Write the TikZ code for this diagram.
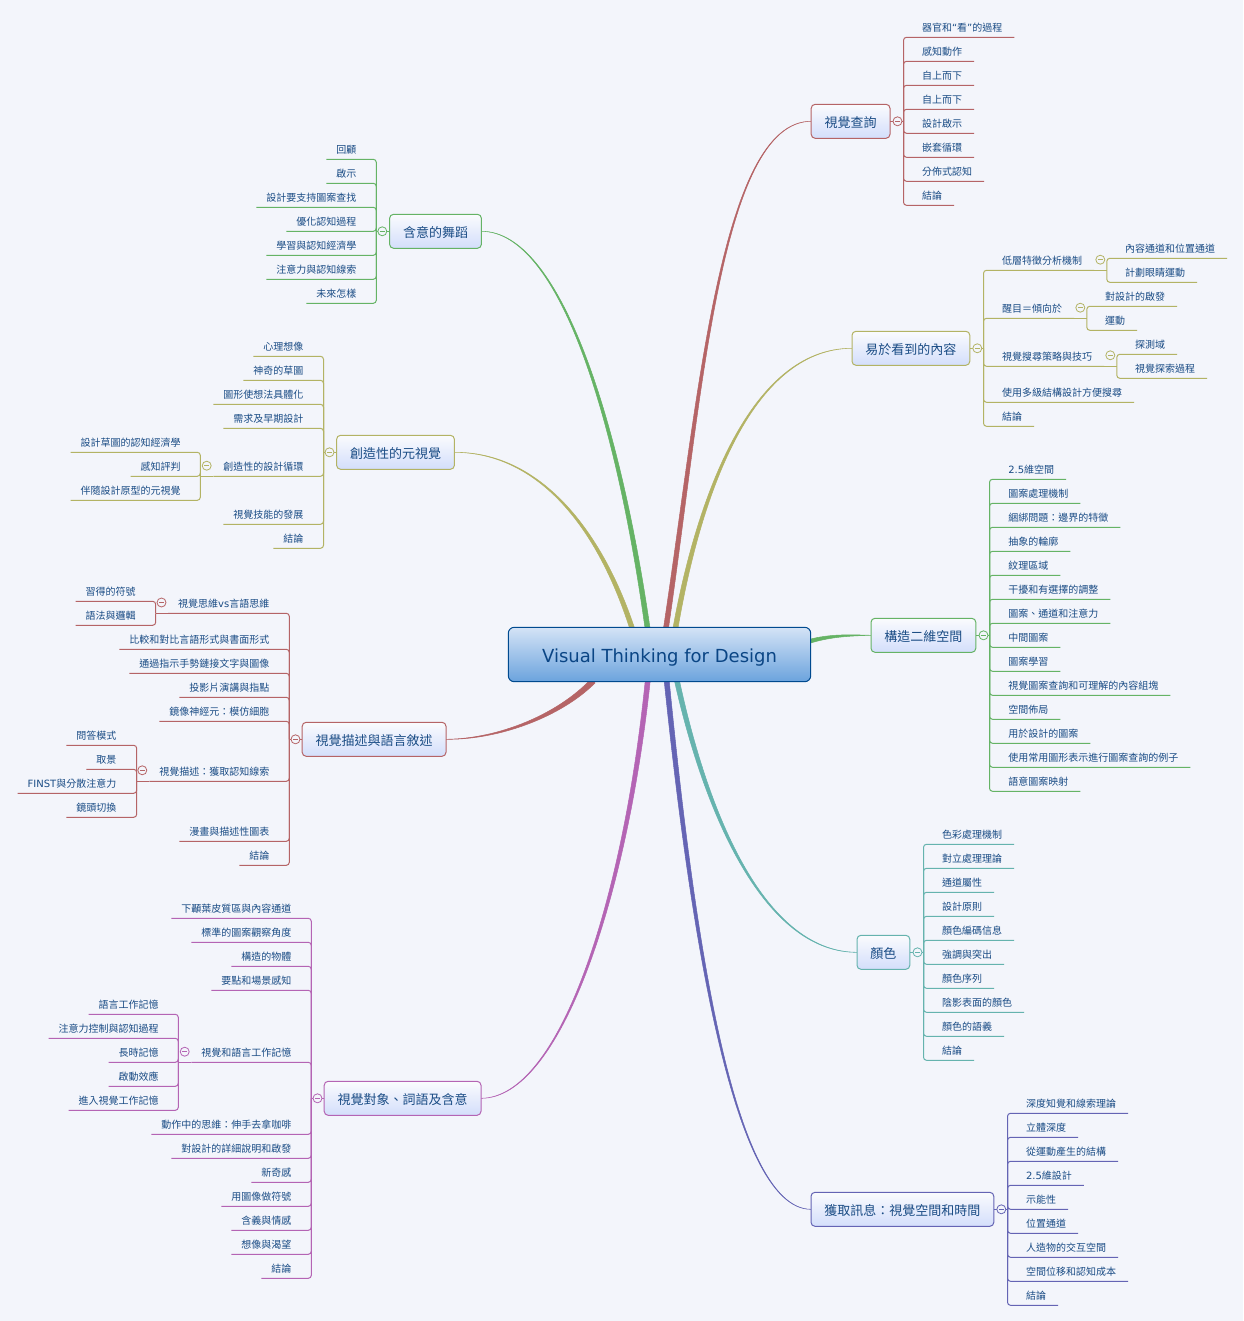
\documentclass[tikz,border=0pt]{standalone}
\usepackage{fontspec}
\setmainfont{Noto Sans CJK TC}
\newfontfamily\latf{DejaVu Sans}
\newcommand\lat[1]{{\latf #1}}
\usetikzlibrary{calc,backgrounds}
\definecolor{bgc}{HTML}{F3F5FB}
\definecolor{cRed}{HTML}{B56466}
\definecolor{cOli}{HTML}{B3B364}
\definecolor{cGrn}{HTML}{65B365}
\definecolor{cTea}{HTML}{65B3AE}
\definecolor{cBlu}{HTML}{6464B4}
\definecolor{cMag}{HTML}{B464B4}
\definecolor{txtc}{HTML}{1A4C85}
\definecolor{topb}{HTML}{D3DEFB}
\definecolor{rootb}{HTML}{004A8F}
\definecolor{roott}{HTML}{D4E3F6}
\definecolor{rootd}{HTML}{6BA3DD}
\definecolor{rootx}{HTML}{0A4585}
\tikzset{
  leafbase/.style={font=\fontsize{10}{12}\selectfont,text=txtc,text height=8.8pt,text depth=1.2pt,inner ysep=5pt,outer sep=0pt},
  leafR/.style={leafbase,inner xsep=12pt,anchor=south west},
  leafL/.style={leafbase,inner xsep=10pt,anchor=south east},
  wire/.style={draw=#1,line width=1pt,rounded corners=3pt},
  topicnode/.style={draw=#1,line width=1pt,rounded corners=4pt,top color=white!60!bgc,bottom color=topb,
    font=\fontsize{13}{16}\selectfont,text=txtc,inner xsep=13.4pt,inner ysep=0pt,text height=13pt,text depth=1.12pt,minimum height=34pt,anchor=west,outer sep=0pt},
  rootnode/.style={draw=rootb,line width=1pt,rounded corners=6pt,top color=roott,bottom color=rootd,
    text=rootx,font=\latf\fontsize{18}{21}\selectfont,text height=16pt,text depth=.4pt,minimum width=302.4pt,minimum height=54.4pt,inner sep=0pt,outer sep=0pt},
  foldnode/.style={circle,draw=#1,line width=.8pt,fill=bgc,minimum size=9pt,inner sep=0pt},
}
% name, colour, text start x, list of y/text
\newcommand\leavesR[4]{\foreach \yy/\txt [count=\i] in {#4}{%
  \node[leafR] (#1-\i) at (#3-12,\yy) {\txt};
  \draw[wire=#2] (#1hub) |- (#1-\i.south east);}}
\newcommand\leavesL[4]{\foreach \yy/\txt [count=\i] in {#4}{%
  \node[leafL] (#1-\i) at (#3+10.6,\yy) {\txt};
  \draw[wire=#2] (#1hub) |- (#1-\i.south west);}}
% name, colour, x, y
\newcommand\fold[4]{\node[foldnode=#2] (#1) at (#3,#4) {};
  \draw[#2,line width=.7pt] ($(#1.center)+(-2.4,0)$) -- ($(#1.center)+(2.4,0)$);}
% colour, start, dx, dy, c1x, c1y, c2x, c2y
\newcommand\taper[8]{\path[draw=#1,fill=#1,line width=.5pt]
  ($(#2)+(-#3,-#4)$) .. controls ({#5-.75*#3},{#6-.75*#4}) and (#7,{#8+.6*\tsign}) .. (\tend)
  .. controls (#7,{#8-.6*\tsign}) and ({#5+.75*#3},{#6+.75*#4}) .. ($(#2)+(#3,#4)$) -- cycle;}
\begin{document}
\begin{tikzpicture}[x=1pt,y=-1pt]
\useasboundingbox (0,0) rectangle (1243,1321);
\begin{scope}[on background layer]
\fill[bgc] (0,0) rectangle (1243,1321);
\end{scope}

\node[rootnode] (root) at (659.5,654.5) {Visual Thinking for Design};

\node[topicnode=cRed] (A) at (811.2,121.3) {視覺查詢};
\node[topicnode=cOli] (B) at (852.0,348.3) {易於看到的內容};
\node[topicnode=cGrn] (C) at (871.0,635.3) {構造二維空間};
\node[topicnode=cTea] (D) at (857.0,952.3) {顏色};
\node[topicnode=cBlu] (E) at (811.0,1209.3) {獲取訊息：視覺空間和時間};
\node[topicnode=cGrn,anchor=east] (F) at (481.4,231.3) {含意的舞蹈};
\node[topicnode=cOli,anchor=east] (G) at (454.4,452.3) {創造性的元視覺};
\node[topicnode=cRed,anchor=east] (H) at (446.0,739.3) {視覺描述與語言敘述};
\node[topicnode=cMag,anchor=east] (I) at (481.0,1098.3) {視覺對象、詞語及含意};

% main tapered links
\coordinate (sA) at (666,628);
\coordinate (sB) at (675.5,628);
\coordinate (sC) at (809,641.5);
\coordinate (sD) at (677,681);
\coordinate (sE) at (666.7,681);
\coordinate (sF) at (647.5,628);
\coordinate (sG) at (632,628);
\coordinate (sH) at (593,681);
\coordinate (sI) at (647.7,681);
\begin{scope}[on background layer]
\def\tsign{-1}\def\tend{A.west}\taper{cRed}{sA}{2.5}{0}{700}{400}{720}{121.3}
\def\tsign{-1}\def\tend{B.west}\taper{cOli}{sB}{2.5}{0}{698}{500}{750}{348.3}
\def\tsign{-1}\def\tend{C.west}\taper{cGrn}{sC}{0}{2}{830}{635.3}{850}{635.3}
\def\tsign{1}\def\tend{D.west}\taper{cTea}{sD}{2.5}{0}{710}{830}{770}{952.3}
\def\tsign{1}\def\tend{E.west}\taper{cBlu}{sE}{2.5}{0}{690}{910}{730}{1209.3}
\def\tsign{1}\def\tend{F.east}\taper{cGrn}{sF}{2.5}{0}{618}{420}{560}{231.3}
\def\tsign{1}\def\tend{G.east}\taper{cOli}{sG}{2.5}{0}{600}{530}{540}{452.3}
\def\tsign{-1}\def\tend{H.east}\taper{cRed}{sH}{2}{2}{560}{715}{500}{739.3}
\def\tsign{-1}\def\tend{I.east}\taper{cMag}{sI}{2.5}{0}{625}{900}{560}{1098.3}
\end{scope}

% hubs
\coordinate (Ahub) at (903.5,121.3);
\coordinate (Bhub) at (983.5,348.3);
\coordinate (Chub) at (989.5,635.3);
\coordinate (Dhub) at (923.5,952.3);
\coordinate (Ehub) at (1007.5,1209.3);
\coordinate (Fhub) at (376.3,231.3);
\coordinate (Ghub) at (323.5,452.3);
\coordinate (Hhub) at (289.3,739.3);
\coordinate (Ihub) at (311.3,1098.3);

\leavesR{A}{cRed}{922}{37.3/器官和\lat{“}看\lat{”}的過程,61.3/感知動作,85.3/自上而下,109.3/自上而下,133.3/設計啟示,157.3/嵌套循環,181.3/分佈式認知,205.3/結論}
\leavesR{B}{cOli}{1002}{270.3/低層特徵分析機制,318.3/醒目＝傾向於,366.3/視覺搜尋策略與技巧,402.3/使用多級結構設計方便搜尋,426.3/結論}
\leavesR{C}{cGrn}{1008.3}{479.3/\lat{2.5}維空間,503.3/圖案處理機制,527.3/綑綁問題：邊界的特徵,551.3/抽象的輪廓,575.3/紋理區域,599.3/干擾和有選擇的調整,623.3/圖案、通道和注意力,647.3/中間圖案,671.3/圖案學習,695.3/視覺圖案查詢和可理解的內容組塊,719.3/空間佈局,743.3/用於設計的圖案,767.3/使用常用圖形表示進行圖案查詢的例子,791.3/語意圖案映射}
\leavesR{D}{cTea}{942}{844.3/色彩處理機制,868.3/對立處理理論,892.3/通道屬性,916.3/設計原則,940.3/顏色編碼信息,964.3/強調與突出,988.3/顏色序列,1012.3/陰影表面的顏色,1036.3/顏色的語義,1060.3/結論}
\leavesR{E}{cBlu}{1026}{1113.3/深度知覺和線索理論,1137.3/立體深度,1161.3/從運動產生的結構,1185.3/\lat{2.5}維設計,1209.3/示能性,1233.3/位置通道,1257.3/人造物的交互空間,1281.3/空間位移和認知成本,1305.3/結論}
\leavesL{F}{cGrn}{355.7}{159.3/回顧,183.3/啟示,207.3/設計要支持圖案查找,231.3/優化認知過程,255.3/學習與認知經濟學,279.3/注意力與認知線索,303.3/未來怎樣}
\leavesL{G}{cOli}{302.7}{356.3/心理想像,380.3/神奇的草圖,404.3/圖形使想法具體化,428.3/需求及早期設計,476.3/創造性的設計循環,524.3/視覺技能的發展,548.3/結論}
\leavesL{H}{cRed}{268.7}{613.3/視覺思維\lat{vs}言語思維,649.3/比較和對比言語形式與書面形式,673.3/通過指示手勢鏈接文字與圖像,697.3/投影片演講與指點,721.3/鏡像神經元：模仿細胞,781.3/視覺描述：獲取認知線索,841.3/漫畫與描述性圖表,865.3/結論}
\leavesL{I}{cMag}{290.7}{918.3/下顳葉皮質區與內容通道,942.3/標準的圖案觀察角度,966.3/構造的物體,990.3/要點和場景感知,1062.3/視覺和語言工作記憶,1134.3/動作中的思維：伸手去拿咖啡,1158.3/對設計的詳細說明和啟發,1182.3/新奇感,1206.3/用圖像做符號,1230.3/含義與情感,1254.3/想像與渴望,1278.3/結論}

% second-level groups
\coordinate (B1hub) at (1106.8,270.3);
\coordinate (B2hub) at (1086.8,318.3);
\coordinate (B3hub) at (1116.8,366.3);
\draw[wire=cOli] (B-1.south east) -- (B1hub);
\draw[wire=cOli] (B-2.south east) -- (B2hub);
\draw[wire=cOli] (B-3.south east) -- (B3hub);
\leavesR{B1}{cOli}{1125}{258.3/內容通道和位置通道,282.3/計劃眼睛運動}
\leavesR{B2}{cOli}{1105}{306.3/對設計的啟發,330.3/運動}
\leavesR{B3}{cOli}{1135}{354.3/探測域,378.3/視覺探索過程}

\coordinate (G1hub) at (200.3,476.3);
\draw[wire=cOli] (G-5.south west) -- (G1hub);
\leavesL{G1}{cOli}{180}{452.3/設計草圖的認知經濟學,476.3/感知評判,500.3/伴隨設計原型的元視覺}

\coordinate (H1hub) at (155.7,613.3);
\coordinate (H2hub) at (136.7,781.3);
\draw[wire=cRed] (H-1.south west) -- (H1hub);
\draw[wire=cRed] (H-6.south west) -- (H2hub);
\leavesL{H1}{cRed}{135}{601.3/習得的符號,625.3/語法與邏輯}
\leavesL{H2}{cRed}{115.7}{745.3/問答模式,769.3/取景,793.3/\lat{FINST}與分散注意力,817.3/鏡頭切換}

\coordinate (I1hub) at (178.3,1062.3);
\draw[wire=cMag] (I-5.south west) -- (I1hub);
\leavesL{I1}{cMag}{158}{1014.3/語言工作記憶,1038.3/注意力控制與認知過程,1062.3/長時記憶,1086.3/啟動效應,1110.3/進入視覺工作記憶}

% topic to hub links and fold marks
\draw[wire=cRed] (A.east) -- (Ahub);
\draw[wire=cOli] (B.east) -- (Bhub);
\draw[wire=cGrn] (C.east) -- (Chub);
\draw[wire=cTea] (D.east) -- (Dhub);
\draw[wire=cBlu] (E.east) -- (Ehub);
\draw[wire=cGrn] (F.west) -- (Fhub);
\draw[wire=cOli] (G.west) -- (Ghub);
\draw[wire=cRed] (H.west) -- (Hhub);
\draw[wire=cMag] (I.west) -- (Ihub);

\fold{fA}{cRed}{897.5}{121.3}
\fold{fB}{cOli}{977.3}{348.3}
\fold{fC}{cGrn}{983.5}{635.3}
\fold{fD}{cTea}{917.5}{952.3}
\fold{fE}{cBlu}{1001.3}{1209.3}
\fold{fF}{cGrn}{382.3}{231.3}
\fold{fG}{cOli}{329.5}{452.3}
\fold{fH}{cRed}{295.5}{739.3}
\fold{fI}{cMag}{317.5}{1098.3}
\fold{fB1}{cOli}{1100.3}{259.7}
\fold{fB2}{cOli}{1080.3}{307.7}
\fold{fB3}{cOli}{1110.3}{355.3}
\fold{fG1}{cOli}{206.7}{465.7}
\fold{fH1}{cRed}{161.5}{602.5}
\fold{fH2}{cRed}{142.3}{770.3}
\fold{fI1}{cMag}{184.7}{1051.7}
\end{tikzpicture}
\end{document}
